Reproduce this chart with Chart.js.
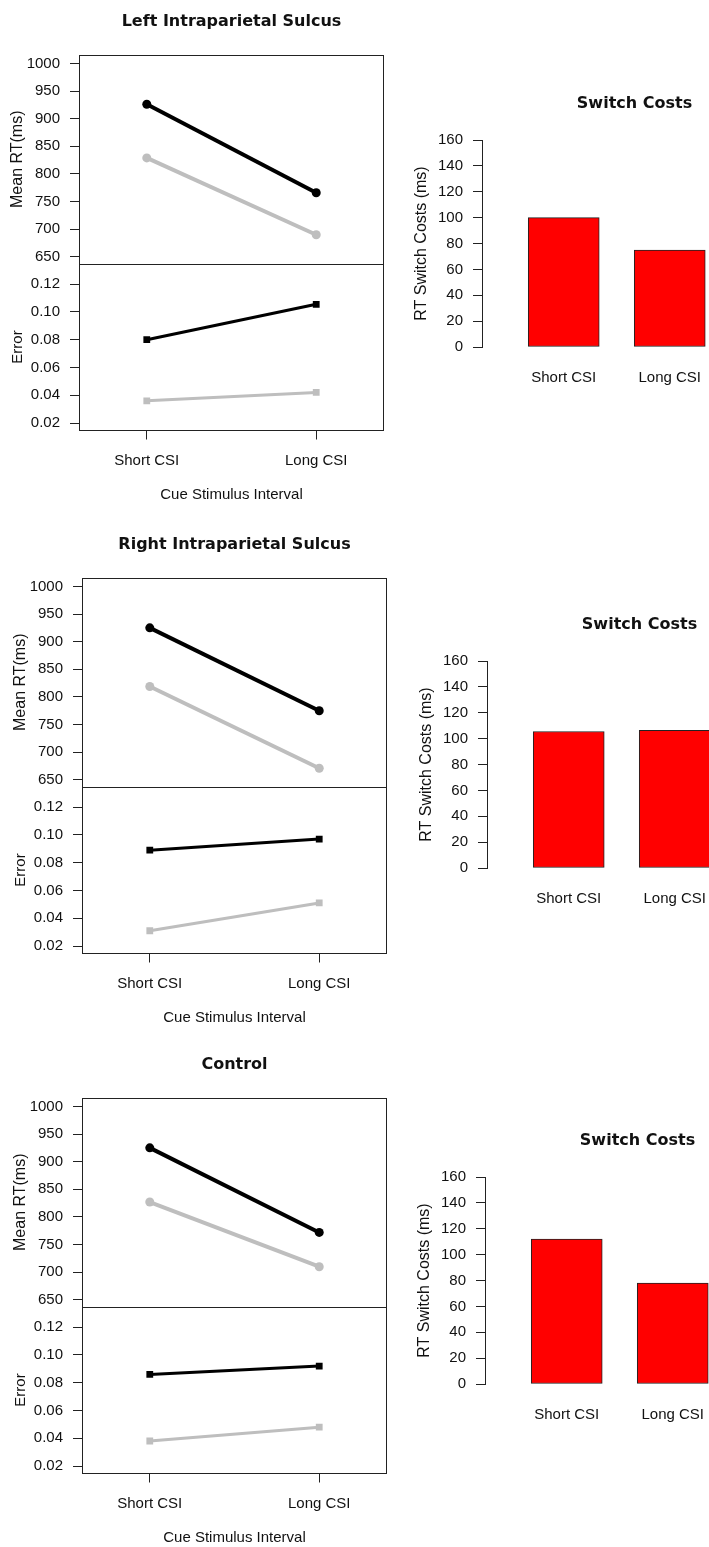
<!DOCTYPE html>
<html>
<head>
<meta charset="utf-8">
<title>Switch costs by region</title>
<script src="https://cdn.jsdelivr.net/npm/chart.js@4.4.1/dist/chart.umd.min.js"></script>
<style>
  html, body { margin: 0; padding: 0; background: #fff; }
  body { position: relative; width: 709px; height: 1547px; overflow: hidden; }
  canvas { position: absolute; }
</style>
</head>
<body>
<canvas id="leftLines" width="393" height="510" style="left:-2.7px; top:0px"></canvas>
<canvas id="leftCosts" width="388" height="327" style="left:398.7px; top:80px"></canvas>
<canvas id="rightLines" width="393" height="510" style="left:0px; top:523.3px"></canvas>
<canvas id="rightCosts" width="388" height="327" style="left:403.7px; top:601px"></canvas>
<canvas id="controlLines" width="393" height="510" style="left:0px; top:1043.3px"></canvas>
<canvas id="controlCosts" width="388" height="327" style="left:402px; top:1116.7px"></canvas>
<script>
// categories and tick values
const csiLabels = ["Short CSI", "Long CSI"];
const rtTicks = [650, 700, 750, 800, 850, 900, 950, 1000];
const errTicks = [0.02, 0.04, 0.06, 0.08, 0.10, 0.12];
const costTicks = [0, 20, 40, 60, 80, 100, 120, 140, 160];

// Left Intraparietal Sulcus
const leftRtBlack = [926, 766];
const leftRtGray = [829, 690];
const leftErrBlack = [0.080, 0.1055];
const leftErrGray = [0.036, 0.042];
const leftCosts = [100, 75];

// Right Intraparietal Sulcus
const rightRtBlack = [925, 775];
const rightRtGray = [819, 671];
const rightErrBlack = [0.089, 0.097];
const rightErrGray = [0.031, 0.051];
const rightCosts = [105.5, 106.5];

// Control
const controlRtBlack = [925, 772];
const controlRtGray = [827, 710];
const controlErrBlack = [0.086, 0.092];
const controlErrGray = [0.038, 0.048];
const controlCosts = [112, 78];

const BLACK = "#000000";
const GRAY = "#BEBEBE";
const AXIS = "#222222";
const TEXT = "#111111";
const TITLE_FONT = { family: "'DejaVu Sans', sans-serif", size: 16, weight: "bold" };
const TICK_FONT = { family: "'Liberation Sans', Arial, sans-serif", size: 15 };

Chart.defaults.font.family = "'Liberation Sans', Arial, sans-serif";
Chart.defaults.color = TEXT;

// frame around the plot area plus the line splitting RT from error
const panelBox = {
    id: "panelBox",
    afterDraw(chart) {
        const { ctx, chartArea } = chart;
        const split = Math.round(chart.scales.rt.bottom) + 0.5;
        const left = Math.round(chartArea.left) + 0.5;
        const right = Math.round(chartArea.right) - 0.5;
        const top = Math.round(chartArea.top) + 0.5;
        const bottom = Math.round(chartArea.bottom) - 0.5;
        ctx.save();
        ctx.strokeStyle = AXIS;
        ctx.lineWidth = 1;
        ctx.strokeRect(left, top, right - left, bottom - top);
        ctx.beginPath();
        ctx.moveTo(left, split);
        ctx.lineTo(right, split);
        ctx.stroke();
        ctx.restore();
    }
};

function toPoints(values, shift) {
    return values.map((v, i) => ({ x: i + shift, y: v }));
}

function lineSet(values, axis, color, thick) {
    return {
        data: toPoints(values, 0),
        yAxisID: axis,
        borderColor: color,
        backgroundColor: color,
        borderWidth: thick ? 4 : 3,
        pointStyle: thick ? "circle" : "rect",
        pointRadius: thick ? 4.5 : 4.8,
        pointBorderWidth: 0,
        tension: 0
    };
}

function makeLinePanel(canvasId, title, rtBlack, rtGray, errBlack, errGray) {
    return new Chart(document.getElementById(canvasId), {
        type: "line",
        data: {
            datasets: [
                lineSet(rtGray, "rt", GRAY, true),
                lineSet(rtBlack, "rt", BLACK, true),
                lineSet(errGray, "err", GRAY, false),
                lineSet(errBlack, "err", BLACK, false)
            ]
        },
        options: {
            responsive: false,
            animation: false,
            layout: { padding: { left: 0, right: 6, top: 0, bottom: 0 } },
            plugins: {
                legend: { display: false },
                tooltip: { enabled: false },
                title: {
                    display: true, text: title, fullSize: false, color: TEXT,
                    font: TITLE_FONT, padding: { top: 12, bottom: 23.8 }
                }
            },
            scales: {
                x: {
                    type: "linear", min: -0.4, max: 1.4,
                    afterBuildTicks: s => { s.ticks = csiLabels.map((_, i) => ({ value: i })); },
                    afterFit: s => { s.height = 79.5; },
                    ticks: { callback: (v, i) => csiLabels[i], padding: 12.5, font: TICK_FONT, maxRotation: 0, autoSkip: false },
                    grid: { drawOnChartArea: false, tickLength: 9, color: AXIS },
                    border: { display: false },
                    title: {
                        display: true, text: "Cue Stimulus Interval",
                        font: { size: 15 }, padding: { top: 0, bottom: 5.7 }
                    }
                },
                err: {
                    type: "linear", position: "left", stack: "panel", stackWeight: 167, weight: 0,
                    min: 0.0146, max: 0.1349,
                    afterBuildTicks: s => { s.ticks = errTicks.map(v => ({ value: v })); },
                    afterFit: s => { s.width = 82; },
                    ticks: { callback: v => v.toFixed(2), padding: 10, font: TICK_FONT, autoSkip: false },
                    grid: { drawOnChartArea: false, tickLength: 9, color: AXIS },
                    border: { display: false },
                    title: { display: true, text: "Error", font: { size: 15 }, padding: { top: 12, bottom: 0 } }
                },
                rt: {
                    type: "linear", position: "left", stack: "panel", stackWeight: 208.5, weight: 1,
                    min: 638, max: 1015.2,
                    afterBuildTicks: s => { s.ticks = rtTicks.map(v => ({ value: v })); },
                    afterFit: s => { s.width = 82; },
                    ticks: { callback: v => String(v), padding: 10, font: TICK_FONT, autoSkip: false },
                    grid: { drawOnChartArea: false, tickLength: 9, color: AXIS },
                    border: { display: false },
                    title: { display: true, text: "Mean RT(ms)", font: { size: 16 }, padding: { top: 11.4, bottom: 0 } }
                }
            }
        },
        plugins: [panelBox]
    });
}

function makeCostPanel(canvasId, costs) {
    return new Chart(document.getElementById(canvasId), {
        type: "bar",
        data: {
            datasets: [{
                data: toPoints(costs, 1),
                backgroundColor: "#FF0000",
                borderColor: AXIS,
                borderWidth: 1,
                borderSkipped: false,
                barThickness: 71
            }]
        },
        options: {
            responsive: false,
            animation: false,
            layout: { padding: 0 },
            plugins: {
                legend: { display: false },
                tooltip: { enabled: false },
                title: {
                    display: true, text: "Switch Costs", fullSize: false, color: TEXT,
                    font: TITLE_FONT, padding: { top: 14.4, bottom: 26.4 }
                }
            },
            scales: {
                x: {
                    type: "linear", min: 0.229, max: 3.106, offset: false,
                    afterBuildTicks: s => { s.ticks = csiLabels.map((_, i) => ({ value: i + 1 })); },
                    afterFit: s => { s.height = 60; },
                    ticks: { callback: (v, i) => csiLabels[i], padding: 21.7, font: TICK_FONT, maxRotation: 0, autoSkip: false },
                    grid: { display: false, drawTicks: false },
                    border: { display: false }
                },
                y: {
                    min: 0, max: 160,
                    afterBuildTicks: s => { s.ticks = costTicks.map(v => ({ value: v })); },
                    afterFit: s => { s.width = 83; },
                    ticks: { callback: v => String(v), padding: 10, font: TICK_FONT, autoSkip: false },
                    grid: { drawOnChartArea: false, tickLength: 9, color: AXIS },
                    border: { display: true, color: AXIS },
                    title: {
                        display: true, text: "RT Switch Costs (ms)",
                        font: { size: 16 }, padding: { top: 13.4, bottom: 0 }
                    }
                }
            }
        }
    });
}

makeLinePanel("leftLines", "Left Intraparietal Sulcus", leftRtBlack, leftRtGray, leftErrBlack, leftErrGray);
makeCostPanel("leftCosts", leftCosts);
makeLinePanel("rightLines", "Right Intraparietal Sulcus", rightRtBlack, rightRtGray, rightErrBlack, rightErrGray);
makeCostPanel("rightCosts", rightCosts);
makeLinePanel("controlLines", "Control", controlRtBlack, controlRtGray, controlErrBlack, controlErrGray);
makeCostPanel("controlCosts", controlCosts);
</script>
</body>
</html>
